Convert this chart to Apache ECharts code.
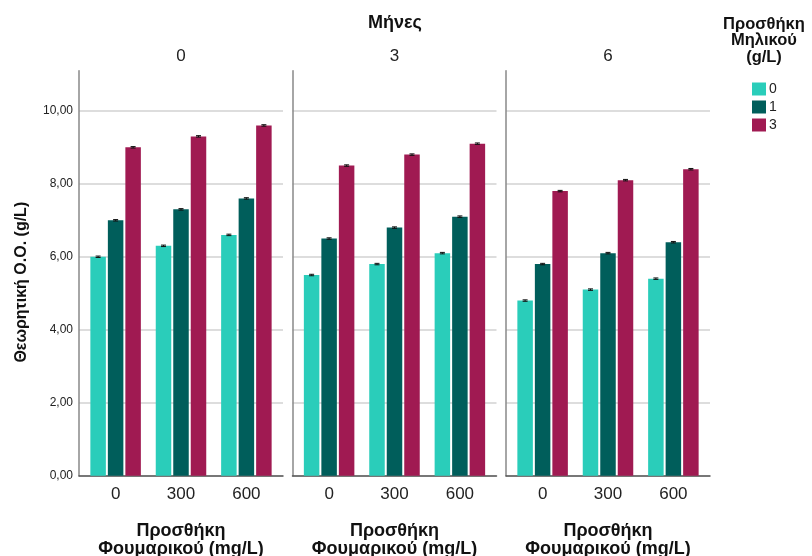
<!DOCTYPE html>
<html>
<head>
<meta charset="utf-8">
<script src="https://cdn.jsdelivr.net/npm/echarts@6/dist/echarts.min.js"></script>
<style>
  html, body { margin: 0; padding: 0; background: #fff; }
  #chart { width: 812px; height: 556px; }
</style>
</head>
<body>
<div id="chart"></div>
<script>
// Facet labels, categories and legend entries
const months = ['0', '3', '6'];
const fumaric = ['0', '300', '600'];
const malicLevels = ['0', '1', '3'];

// Mean theoretical O.O. (g/L) per month, for fumaric 0 / 300 / 600 mg/L
const malic0 = [[6.0, 6.3, 6.6], [5.5, 5.8, 6.1], [4.8, 5.1, 5.4]];
const malic1 = [[7.0, 7.3, 7.6], [6.5, 6.8, 7.1], [5.8, 6.1, 6.4]];
const malic3 = [[9.0, 9.3, 9.6], [8.5, 8.8, 9.1], [7.8, 8.1, 8.4]];
// Half-width of the error bars (g/L)
const errHalf = [[0.02, 0.02, 0.02], [0.02, 0.02, 0.02], [0.02, 0.02, 0.02]];

const seriesValues = [malic0, malic1, malic3];
const colors = ['#2acdba', '#005e5b', '#a01a52'];

const FONT = 'Liberation Sans, Arial, sans-serif';
const BAR_W = 15.5;
const BAR_GAP = 2;

const panelLeft = [79, 292.5, 506];
const panelWidth = 204;
const gridTop = 70.7;
const gridHeight = 405;

const grids = [], xAxes = [], yAxes = [], series = [];

months.forEach((m, k) => {
  grids.push({
    left: panelLeft[k], top: gridTop, width: panelWidth, height: gridHeight,
    containLabel: false, outerBoundsMode: 'none'
  });
  xAxes.push({
    gridIndex: k,
    type: 'value',
    min: -0.56,
    max: 2.56,
    axisLine: { show: true, onZero: false, lineStyle: { color: '#555', width: 1.5 } },
    axisTick: { show: false },
    splitLine: { show: false },
    axisLabel: {
      customValues: [0, 1, 2],
      formatter: v => fumaric[Math.round(v)],
      fontFamily: FONT, fontSize: 17, color: '#222', margin: 10
    },
    name: 'Προσθήκη\nΦουμαρικού (mg/L)',
    nameLocation: 'middle',
    nameGap: 46,
    nameTextStyle: { fontFamily: FONT, fontSize: 18, fontWeight: 'bold', color: '#111', lineHeight: 18 }
  });
  yAxes.push({
    gridIndex: k,
    type: 'value',
    min: 0,
    max: 11.1,
    interval: 2,
    axisLine: { show: true, onZero: false, lineStyle: { color: '#888', width: 1.5 } },
    axisTick: { show: false },
    splitLine: { show: true, showMaxLine: false, lineStyle: { color: '#d2d2d2', width: 1.5 } },
    axisLabel: {
      show: k === 0,
      showMaxLabel: false,
      formatter: v => v.toFixed(2).replace('.', ','),
      fontFamily: FONT, fontSize: 12, color: '#222', margin: 6
    },
    name: k === 0 ? 'Θεωρητική Ο.Ο. (g/L)' : '',
    nameLocation: 'middle',
    nameGap: 49,
    nameTextStyle: { fontFamily: FONT, fontSize: 16, fontWeight: 'bold', color: '#111', padding: [0, 18, 0, 0] }
  });

  seriesValues.forEach((vals, s) => {
    series.push({
      type: 'bar',
      name: malicLevels[s],
      xAxisIndex: k,
      yAxisIndex: k,
      barWidth: BAR_W,
      barGap: (BAR_GAP / BAR_W * 100).toFixed(1) + '%',
      itemStyle: { color: colors[s] },
      data: vals[k].map((v, i) => [i, v])
    });
  });

  // Error bars drawn on top of each bar
  const errData = [];
  seriesValues.forEach((vals, s) => {
    vals[k].forEach((v, i) => errData.push([i, v, s, errHalf[k][i]]));
  });
  series.push({
    type: 'custom',
    xAxisIndex: k,
    yAxisIndex: k,
    silent: true,
    z: 5,
    data: errData,
    renderItem: (params, api) => {
      const x = api.value(0), y = api.value(1), s = api.value(2), e = api.value(3);
      const off = (s - 1) * (BAR_W + BAR_GAP);
      const hi = api.coord([x, y + e]);
      const lo = api.coord([x, y - e]);
      const cx = hi[0] + off;
      const style = { stroke: '#111', lineWidth: 1 };
      return {
        type: 'group',
        children: [
          { type: 'line', shape: { x1: cx, y1: hi[1], x2: cx, y2: lo[1] }, style },
          { type: 'line', shape: { x1: cx - 2.5, y1: hi[1], x2: cx + 2.5, y2: hi[1] }, style },
          { type: 'line', shape: { x1: cx - 2.5, y1: lo[1], x2: cx + 2.5, y2: lo[1] }, style }
        ]
      };
    }
  });
});

const titles = [
  { text: 'Μήνες', left: 395, top: 14, padding: 0, textAlign: 'center',
    textStyle: { fontFamily: FONT, fontSize: 18, fontWeight: 'bold', color: '#111' } },
  { text: 'Προσθήκη\nΜηλικού\n(g/L)', left: 764, top: 16, padding: 0, textAlign: 'center',
    textStyle: { fontFamily: FONT, fontSize: 16.5, fontWeight: 'bold', color: '#111', lineHeight: 16.5 } }
];
months.forEach((m, k) => {
  titles.push({ text: m, left: panelLeft[k] + panelWidth / 2, top: 48, padding: 0, textAlign: 'center',
    textStyle: { fontFamily: FONT, fontSize: 17, fontWeight: 'normal', color: '#222' } });
});

const chart = echarts.init(document.getElementById('chart'), null, { renderer: 'canvas' });
chart.setOption({
  animation: false,
  backgroundColor: '#fff',
  title: titles,
  legend: {
    data: malicLevels,
    orient: 'vertical',
    left: 752,
    top: 82,
    padding: 0,
    itemWidth: 14,
    itemHeight: 13,
    itemGap: 4,
    icon: 'rect',
    textStyle: { fontFamily: FONT, fontSize: 14, color: '#222', padding: [0, 0, 0, -2] }
  },
  grid: grids,
  xAxis: xAxes,
  yAxis: yAxes,
  series: series
});
</script>
</body>
</html>
